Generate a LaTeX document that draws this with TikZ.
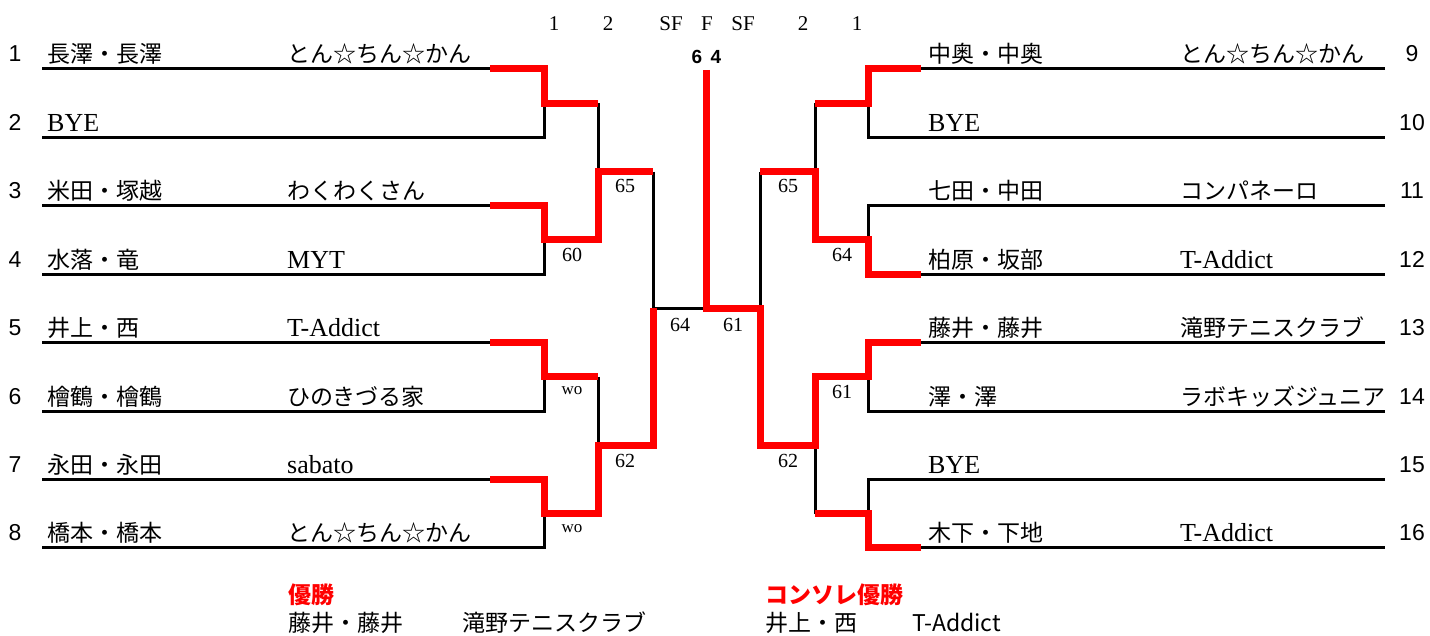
\documentclass[tikz,border=0pt]{standalone}
\usepackage{fontspec}
\setmainfont{Liberation Serif}
\newfontfamily\jp{Noto Sans CJK JP}
\newfontfamily\gothic{Liberation Sans}
\newcommand\lat{\rmfamily\fontsize{26}{26}\selectfont}
\definecolor{winred}{RGB}{255,0,0}

\begin{document}
\begin{tikzpicture}[x=1pt,y=-1pt,
  line/.style={line width=3pt},
  win/.style={winred,line width=7pt},
  seed/.style={anchor=base,inner sep=0pt,font=\gothic\fontsize{23}{23}\selectfont},
  entry/.style={anchor=base west,inner sep=0pt,font=\jp\fontsize{23}{23}\selectfont},
  score/.style={inner sep=0pt,font=\fontsize{20}{20}\selectfont},
  wo/.style={inner sep=0pt,font=\fontsize{17}{17}\selectfont},
  rnd/.style={inner sep=0pt,font=\fontsize{21}{21}\selectfont},
  final/.style={inner sep=0pt,font=\gothic\bfseries\fontsize{19}{19}\selectfont},
  result/.style={anchor=base west,inner sep=0pt,font=\jp\fontsize{23}{23}\selectfont}]
\useasboundingbox (0,0) rectangle (1430,636);

% round headers
\foreach \t/\x [count=\n] in {1/554,2/608,SF/671,F/707,SF/743,2/803,1/857}
  \node[rnd] (h\n) at (\x,24) {\t};

% left half
\foreach \name/\club [count=\i] in {長澤・長澤/とん☆ちん☆かん,{\lat BYE}/{},
    米田・塚越/わくわくさん,水落・竜/{\lat MYT},井上・西/{\lat T-Addict},
    檜鶴・檜鶴/ひのきづる家,永田・永田/{\lat sabato},橋本・橋本/とん☆ちん☆かん}
{
  \pgfmathsetmacro\y{69+68.4*(\i-1)}
  \node[seed] (s\i) at (15,\y-7) {\i};
  \node[entry] (n\i) at (47,\y-6) {\name};
  \node[entry] (c\i) at (287,\y-6) {\club};
}

% right half
\foreach \name/\club [count=\i from 9] in {中奥・中奥/とん☆ちん☆かん,{\lat BYE}/{},
    七田・中田/コンパネーロ,柏原・坂部/{\lat T-Addict},藤井・藤井/滝野テニスクラブ,
    澤・澤/ラボキッズジュニア,{\lat BYE}/{},木下・下地/{\lat T-Addict}}
{
  \pgfmathsetmacro\y{69+68.4*(\i-9)}
  \node[seed] (s\i) at (1412,\y-7) {\i};
  \node[entry] (n\i) at (928,\y-6) {\name};
  \node[entry] (c\i) at (1180,\y-6) {\club};
}

% bracket
\foreach \k in {0,...,3} {
  \pgfmathsetmacro\ya{69+136.8*\k}
  \pgfmathsetmacro\yb{\ya+68.4}
  \pgfmathsetmacro\ym{\ya+34.2}
  \draw[line] (42,\ya) -| (544,\yb) -- (42,\yb) (544,\ym) -- (598,\ym);
  \draw[line] (1385,\ya) -| (868,\yb) -- (1385,\yb) (868,\ym) -- (815,\ym);
}
\foreach \k in {0,1} {
  \pgfmathsetmacro\ya{103.2+273.6*\k}
  \pgfmathsetmacro\yb{\ya+136.8}
  \pgfmathsetmacro\ym{\ya+68.4}
  \draw[line] (598,\ya) -- (598,\yb) (598,\ym) -- (653,\ym);
  \draw[line] (815,\ya) -- (815,\yb) (815,\ym) -- (760,\ym);
}
\draw[line] (653,171.6) -- (653,445.2) (653,308.4) -- (760,308.4) (760,171.6) -- (760,445.2);

% winners
\begin{scope}[win]
\draw (490,69) -| (544,103.2) -- (598,103.2);
\draw (490,205.8) -| (544,240) -- (598,240) |- (653,171.6);
\draw (490,342.6) -| (544,376.8) -- (598,376.8);
\draw (490,479.4) -| (544,513.6) -- (598,513.6) |- (653,445.2) -- (653,308.4);
\draw (706,70) -- (706,308.4) -| (760,445.2) -| (815,376.8) -| (868,342.6) -- (921,342.6);
\draw (921,69) -| (868,103.2) -- (815,103.2);
\draw (921,274.2) -| (868,240) -- (815,240) |- (760,171.6);
\draw (921,547.8) -| (868,513.6) -- (815,513.6);
\end{scope}

% scores
\node[score] (r1) at (572,255) {60};
\node[wo] (r2) at (572,391) {wo};
\node[wo] (r3) at (572,529) {wo};
\node[score] (r4) at (625,186) {65};
\node[score] (r5) at (625,461) {62};
\node[score] (r6) at (680,325) {64};
\node[score] (r7) at (733,325) {61};
\node[score] (r8) at (788,186) {65};
\node[score] (r9) at (788,461) {62};
\node[score] (r10) at (842,255) {64};
\node[score] (r11) at (842,392) {61};
\node[final] (f1) at (697,57) {6};
\node[final] (f2) at (716,57) {4};

% results
\node[result,text=winred,font=\jp\bfseries\fontsize{23}{23}\selectfont] (champ) at (288,603) {優勝};
\node[result] (champa) at (288,631) {藤井・藤井};
\node[result] (champb) at (462,631) {滝野テニスクラブ};
\node[result,text=winred,font=\jp\bfseries\fontsize{23}{23}\selectfont] (cons) at (765,603) {コンソレ優勝};
\node[result] (consa) at (765,631) {井上・西};
\node[result] (consb) at (912,631) {T-Addict};
\end{tikzpicture}
\end{document}
